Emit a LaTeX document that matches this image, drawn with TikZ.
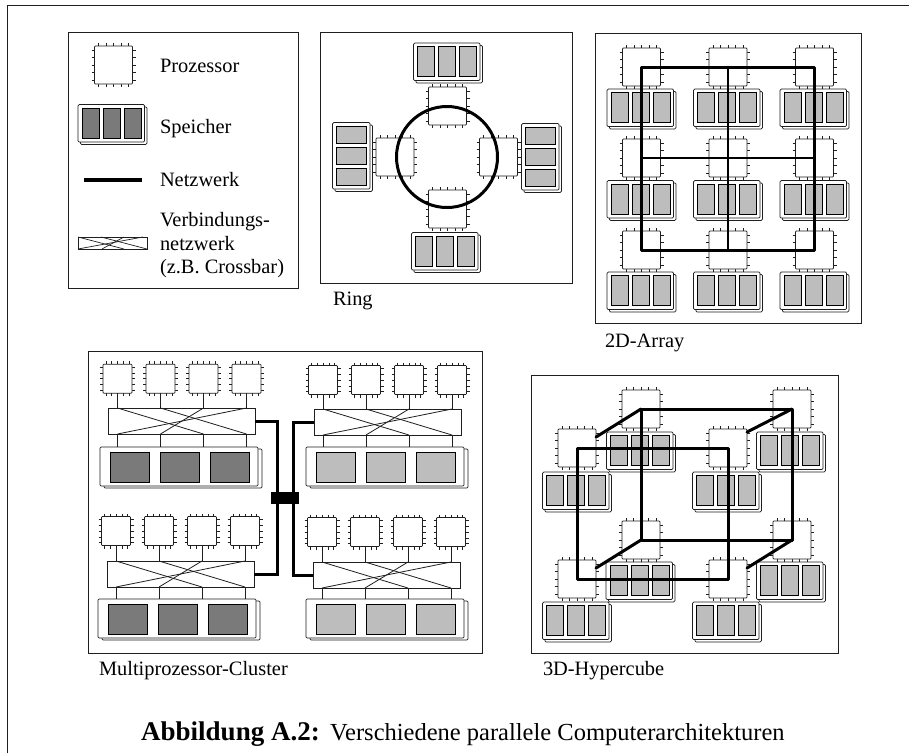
\documentclass[tikz,border=0pt]{standalone}
\usepackage{fontspec}
\setmainfont{Liberation Serif}
\definecolor{dk}{gray}{0.48}
\definecolor{md}{gray}{0.74}
\definecolor{ink}{gray}{0.12}
\tikzset{
  panel/.style={draw=ink,line width=0.8pt,fill=white},
  cpubox/.style={draw=ink,line width=0.7pt,fill=white,inner sep=0pt,outer sep=0pt,rounded corners=0.8pt},
  pinline/.style={draw=ink,line width=0.6pt},
  membox/.style={draw=ink,line width=0.7pt,fill=white,inner sep=0pt,outer sep=0pt,rounded corners=1.2pt},
  cell/.style={draw=black,line width=0.9pt,inner sep=0pt,outer sep=0pt},
  xbar/.style={draw=ink,line width=0.8pt,fill=white,inner sep=0pt,outer sep=0pt},
  wire/.style={draw=ink,line width=0.9pt},
  netline/.style={draw=black,line width=3pt,line cap=round,line join=round},
  lab/.style={anchor=base west,inner sep=0pt,outer sep=0pt,font=\fontsize{20.4}{24}\selectfont},
}
% name, x, y, size
\newcommand\cpu[4]{%
  \pgfmathsetmacro\hh{#4/2}%
  \foreach \k in {-.8,-.4,0,.4,.8}{%
    \draw[pinline] ({#2+\k*\hh},{#3-\hh-3}) -- ({#2+\k*\hh},{#3+\hh+3});
    \draw[pinline] ({#2-\hh-3},{#3+\k*\hh}) -- ({#2+\hh+3},{#3+\k*\hh});
  }%
  \node[cpubox,minimum width=#4,minimum height=#4] (#1) at ({#2},{#3}) {};%
}
% name, x, y, tone : horizontal memory
\newcommand\memh[4]{%
  \node[membox,minimum width=66.5,minimum height=37.5] (#1s) at ({#2+1.2},{#3+1.2}) {};
  \node[membox,minimum width=66.5,minimum height=37.5] (#1) at ({#2-1.2},{#3-1.2}) {};
  \foreach \k/\n in {-22/a,-1/b,20/c}{%
    \node[cell,fill=#4,minimum width=17,minimum height=30] (#1\n) at ({#2+\k},{#3-1.2}) {};
  }%
}
% name, x, y, tone : vertical memory
\newcommand\memv[4]{%
  \node[membox,minimum width=37.5,minimum height=66.5] (#1s) at ({#2+1.2},{#3+1.2}) {};
  \node[membox,minimum width=37.5,minimum height=66.5] (#1) at ({#2-1.2},{#3-1.2}) {};
  \foreach \k/\n in {-22/a,-1/b,20/c}{%
    \node[cell,fill=#4,minimum width=30,minimum height=17] (#1\n) at ({#2-1.2},{#3+\k}) {};
  }%
}
% id, tone, first cpu x, cpu y, xbar left, xbar top, mem left, mem top
\newcommand\cluster[8]{%
  \foreach \i in {1,2,3,4}{%
    \pgfmathsetmacro\px{#3+43*(\i-1)}%
    \cpu{#1p\i}{\px}{#4}{29}
  }%
  \node[xbar,anchor=north west,minimum width=147,minimum height=26] (#1x) at (#5,#6) {};
  \node[membox,anchor=north west,minimum width=158,minimum height=39] (#1ms) at ({#7+4},{#8+2}) {};
  \node[membox,anchor=north west,minimum width=158,minimum height=39] (#1m) at (#7,#8) {};
  \foreach \k/\n in {10/a,60/b,110/c}{%
    \node[cell,fill=#2,anchor=north west,minimum width=39,minimum height=30] (#1m\n) at ({#7+\k},{#8+5}) {};
  }%
  \foreach \i in {1,2,3,4}{%
    \draw[wire] (#1p\i.south) -- (#1p\i.south |- #1x.north);
    \draw[wire] (#1p\i.south |- #1x.south) -- (#1p\i.south |- #1m.north);
  }%
  \draw[wire,line width=0.8pt] (#1p1.south |- #1x.north) -- (#1p3.south |- #1x.south);
  \draw[wire,line width=0.8pt] (#1p2.south |- #1x.north) -- (#1p4.south |- #1x.south);
  \draw[wire,line width=0.8pt] (#1p1.south |- #1x.south) -- (#1p4.south |- #1x.north);
  \draw[wire,line width=0.8pt] (#1p2.south |- #1x.south) -- (#1p3.south |- #1x.north);
}
\begin{document}
\begin{tikzpicture}[x=1pt,y=-1pt]
\useasboundingbox (0,0) rectangle (909,753);
\fill[white] (0,0) rectangle (909,753);
% outer frame (only top and left visible)
\coordinate (ofb) at (7.5,753);
\coordinate (oft) at (7.5,5.5);
\coordinate (ofr) at (909,5.5);
\draw[draw=ink,line width=0.9pt] (ofb) -- (oft) -- (ofr);

% ---------- legend
\node[panel,anchor=north west,minimum width=230,minimum height=256,inner sep=0pt] (legend) at (68,32) {};
\cpu{lcpu}{113.5}{65}{38}
\memh{lmem}{112.5}{124.5}{dk}
\node[lab] (tp) at (160,72) {Prozessor};
\node[lab] (ts) at (160,133) {Speicher};
\coordinate (lna) at (84,180);
\coordinate (lnb) at (142,180);
\draw[netline,line cap=butt,line width=3.4pt] (lna) -- (lnb);
\node[lab] (tn) at (160,186) {Netzwerk};
\node[xbar,minimum width=69,minimum height=12] (lx) at (112.5,243) {};
\draw[wire,line width=0.7pt] (lx.north west) -- ([xshift=46]lx.south west);
\draw[wire,line width=0.7pt] ([xshift=23]lx.north west) -- (lx.south east);
\draw[wire,line width=0.7pt] (lx.south west) -- ([xshift=-4]lx.north east);
\draw[wire,line width=0.7pt] ([xshift=24]lx.south west) -- ([xshift=-23]lx.north east);
\node[lab] (tv1) at (160,226) {Verbindungs-};
\node[lab] (tv2) at (160,250) {netzwerk};
\node[lab] (tv3) at (160,273) {(z.B. Crossbar)};

% ---------- ring
\node[panel,anchor=north west,minimum width=252,minimum height=251,inner sep=0pt] (ringp) at (320,32) {};
\memh{rm1}{448}{63}{md}
\memh{rm3}{446}{252.5}{md}
\memv{rm4}{352.5}{157}{md}
\memv{rm2}{541.5}{158}{md}
\cpu{rc1}{447.5}{106}{38}
\cpu{rc2}{498.5}{157}{38}
\cpu{rc3}{447.5}{209}{38}
\cpu{rc4}{395}{157}{38}
\node[circle,draw=black,line width=3pt,minimum size=101,inner sep=0pt] (ring) at (447,157) {};
\node[lab] (tring) at (333,305) {Ring};

% ---------- 2D array
\node[panel,anchor=north west,minimum width=266,minimum height=290,inner sep=0pt] (arrp) at (595,33) {};
\foreach \c/\xx in {1/641.5,2/728,3/814.5}{%
  \foreach \r/\yy/\my in {1/67/109,2/158/200.5,3/250/292}{%
    \cpu{a\c\r}{\xx}{\yy}{38}
    \memh{am\c\r}{\xx}{\my}{md}
  }%
}
\draw[netline] (a11.center) -- (a31.center) -- (a33.center) -- (a13.center) -- cycle;
\draw[netline,line width=2.6pt] (a21.center) -- (a23.center);
\draw[netline,line width=2.6pt] (a12.center) -- (a32.center);
\node[lab] (tarr) at (605,347) {2D-Array};

% ---------- multiprocessor cluster
\node[panel,anchor=north west,minimum width=394,minimum height=302,inner sep=0pt] (mulp) at (87.5,351) {};
\cluster{tl}{dk}{117.5}{378.7}{108}{408}{100}{447}
\cluster{tr}{md}{323}{380}{314}{409}{306}{447}
\cluster{bl}{dk}{116}{531}{107}{561}{98}{599}
\cluster{br}{md}{322}{532}{313}{562}{306}{599}
\node[fill=black,inner sep=0pt,outer sep=0pt,minimum width=28,minimum height=12] (sw) at (285,498) {};
\coordinate (swa) at (277,498);
\coordinate (swb) at (293,498);
\draw[netline,line cap=butt,line join=miter] (tlx.east) -| (swa);
\draw[netline,line cap=butt,line join=miter] (trx.west) -| (swb);
\draw[netline,line cap=butt,line join=miter] (blx.east) -| (swa);
\draw[netline,line cap=butt,line join=miter] (brx.west) -| (swb);
\node[lab] (tmul) at (99,675) {Multiprozessor-Cluster};

% ---------- 3D hypercube
\node[panel,anchor=north west,minimum width=307,minimum height=278,inner sep=0pt] (hyp) at (531,375) {};
\cpu{hb1}{641}{409}{38}
\cpu{hb2}{792}{409}{38}
\cpu{hb3}{641}{540}{38}
\cpu{hb4}{792}{540}{38}
\memh{mb1}{641}{452}{md}
\memh{mb2}{791}{452}{md}
\memh{mb3}{640.5}{582}{md}
\memh{mb4}{791}{582}{md}
\cpu{hf1}{577}{448}{38}
\cpu{hf2}{728}{448}{38}
\cpu{hf3}{577}{579}{38}
\cpu{hf4}{728}{579}{38}
\memh{mf1}{577}{492}{md}
\memh{mf2}{727}{492}{md}
\memh{mf3}{577}{622}{md}
\memh{mf4}{727}{622}{md}
\draw[netline] (hb1.center) -- (hb2.center) -- (hb4.center) -- (hb3.center) -- cycle;
\draw[netline] (hf1.center) -- (hf2.center) -- (hf4.center) -- (hf3.center) -- cycle;
\draw[netline] (hb1.center) -- (hf1.30);
\draw[netline] (hb2.center) -- (hf2.40);
\draw[netline] (hb3.center) -- (hf3.30);
\draw[netline] (hb4.center) -- (hf4.30);
\node[lab] (thyp) at (543,675) {3D-Hypercube};

% ---------- caption
\node[anchor=base west,inner sep=0pt,font=\fontsize{27}{30}\selectfont\bfseries] (capa) at (141,740) {Abbildung A.2:};
\node[anchor=base west,inner sep=0pt,font=\fontsize{24.5}{30}\selectfont] (capb) at (330,740) {Verschiedene parallele Computerarchitekturen};
\end{tikzpicture}
\end{document}
